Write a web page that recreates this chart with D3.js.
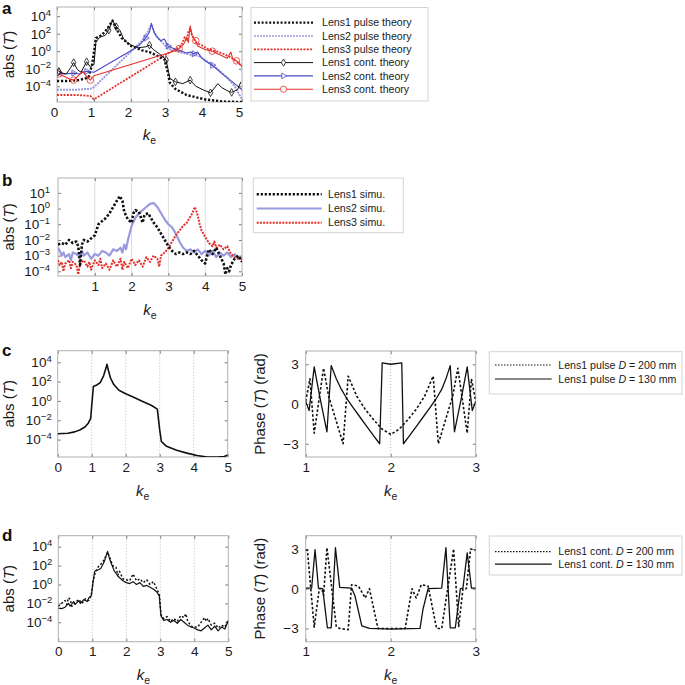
<!DOCTYPE html>
<html><head><meta charset="utf-8">
<script src="https://cdn.jsdelivr.net/npm/d3@7"></script>
<style>body{margin:0;background:#fff} svg{display:block} text{font-family:"Liberation Sans",Arial,Helvetica,sans-serif}</style>
</head><body><svg id="c" width="685" height="685"></svg>
<script>
// ---------- DATA (x = k_e, value = log10 |T| or phase in rad) ----------
const xTicks05 = [0,1,2,3,4,5];
const xTicks15 = [1,2,3,4,5];
const xTicksPhase = [1,2,3];
const yExpA = [4,2,0,-2,-4];
const yExpB = [1,0,-1,-2,-3,-4];
const yPhaseTicks = [3,0,-3];

const legendA = ["Lens1 pulse theory","Lens2 pulse theory","Lens3 pulse theory","Lens1 cont. theory","Lens2 cont. theory","Lens3 cont. theory"];
const legendB = ["Lens1 simu.","Lens2 simu.","Lens3 simu."];
const legendC = [["Lens1 pulse ","D"," = 200 mm"],["Lens1 pulse ","D"," = 130 mm"]];
const legendD = [["Lens1 cont. ","D"," = 200 mm"],["Lens1 cont. ","D"," = 130 mm"]];

const aL1p = [[0,-3.4],[0.3,-3.4],[0.6,-3.3],[0.85,-3.0],[0.95,-1.5],[1.02,0.5],[1.05,1.5],[1.2,1.8],[1.35,2.5],[1.5,3.5],[1.6,2.6],[1.75,1.5],[2.0,0.6],[2.3,0.1],[2.5,-0.1],[2.7,-0.5],[2.9,-0.9],[3.0,-2.5],[3.05,-3.6],[3.2,-4.3],[3.5,-5.0],[4.0,-5.5],[4.5,-5.75],[5.0,-5.8]];
const aL2p = [[0,-4.4],[0.5,-4.4],[0.9,-4.3],[1.0,-4.1],[2.3,1.2],[2.45,2.2],[2.55,3.0],[2.65,2.0],[2.8,1.2],[3.0,0.3],[3.3,-0.1],[3.6,-0.4],[3.8,-0.5],[4.0,-1.0],[4.3,-1.9],[4.6,-3.0],[4.8,-4.0],[5.0,-5.5]];
const aL3p = [[0,-5.0],[0.5,-5.0],[0.9,-5.1],[1.0,-5.5],[3.1,0.0],[3.2,0.2],[3.35,0.6],[3.45,1.6],[3.5,1.2],[3.55,2.2],[3.6,2.6],[3.65,1.8],[3.75,1.0],[3.9,0.7],[4.1,0.2],[4.3,0.0],[4.5,-0.3],[4.7,-0.7],[4.9,-1.3],[5.0,-1.8]];
const aL1c = [[0.05,-2.3],[0.15,-2.5],[0.25,-2.6],[0.35,-2.0],[0.45,-1.3],[0.55,-2.1],[0.65,-2.4],[0.8,-1.2],[0.9,-1.8],[1.0,-1.5],[1.05,1.0],[1.15,1.6],[1.3,1.8],[1.4,2.4],[1.5,3.5],[1.6,2.8],[1.7,2.4],[1.8,1.4],[1.9,1.0],[2.0,0.7],[2.2,0.4],[2.4,0.5],[2.5,0.7],[2.6,0.2],[2.8,-0.4],[2.95,-1.0],[3.05,-3.1],[3.2,-3.5],[3.4,-3.7],[3.6,-3.3],[3.75,-4.0],[3.97,-4.45],[4.15,-4.75],[4.35,-3.7],[4.45,-4.15],[4.6,-4.5],[4.72,-4.7],[4.88,-4.4],[4.97,-3.5]];
const aL2c = [[0.05,-2.5],[0.2,-2.6],[0.45,-2.5],[0.6,-2.6],[0.8,-2.3],[1.0,-2.4],[2.1,0.3],[2.25,0.8],[2.4,1.5],[2.5,2.2],[2.55,3.2],[2.62,2.2],[2.7,1.6],[2.8,1.2],[2.9,1.4],[3.0,0.6],[3.1,0.4],[3.3,0.1],[3.5,-0.2],[3.6,-0.1],[3.7,-0.3],[3.8,-0.1],[3.9,-0.7],[4.0,-1.1],[4.2,-1.6],[4.5,-2.7],[4.8,-3.7],[5.0,-4.4]];
const aL3c = [[0.05,-2.6],[0.2,-2.9],[0.35,-3.2],[0.45,-3.3],[0.55,-2.9],[0.7,-2.3],[0.8,-2.9],[0.9,-3.3],[1.0,-2.8],[3.25,0.1],[3.3,0.3],[3.4,0.7],[3.45,1.0],[3.5,1.6],[3.55,1.0],[3.6,2.9],[3.65,1.8],[3.75,1.2],[3.8,0.6],[4.0,0.2],[4.2,0.0],[4.4,-0.4],[4.6,-0.8],[4.7,-0.1],[4.75,-0.9],[4.85,-1.1],[5.0,-1.7]];
const aL1cMarks = [0.05,0.45,0.8,1.4,1.6,2.5,2.95,3.2,3.6,4.15,4.72];
const aL2cMarks = [0.05,0.45,0.8,2.4,3.0,3.7,4.2];
const aL3cMarks = [0.05,0.45,0.9,3.3,3.75,4.2,4.85];

const bL1 = [[0.0,-2.3],[0.1,-2.2],[0.2,-2.3],[0.3,-2.0],[0.4,-2.2],[0.5,-2.1],[0.55,-2.4],[0.6,-3.6],[0.65,-2.3],[0.7,-2.0],[0.8,-2.1],[0.9,-1.9],[1.0,-1.7],[1.1,-1.0],[1.2,-0.8],[1.3,-0.6],[1.4,-0.3],[1.5,0.1],[1.6,0.5],[1.68,0.8],[1.75,0.5],[1.8,-0.2],[1.9,-0.7],[2.0,-0.9],[2.05,-0.3],[2.1,-0.1],[2.2,-0.2],[2.3,-0.9],[2.35,-0.4],[2.45,-0.3],[2.5,-0.5],[2.6,-0.9],[2.7,-1.2],[2.8,-1.6],[2.9,-2.0],[3.0,-2.4],[3.1,-2.7],[3.2,-2.9],[3.3,-2.8],[3.4,-2.9],[3.5,-2.8],[3.6,-2.9],[3.7,-2.7],[3.8,-3.0],[3.9,-3.3],[4.0,-3.5],[4.05,-3.0],[4.1,-2.6],[4.2,-2.9],[4.3,-2.5],[4.4,-3.0],[4.5,-3.5],[4.55,-4.2],[4.6,-3.8],[4.65,-4.0],[4.7,-3.6],[4.8,-3.2],[4.9,-3.0],[5.0,-3.4]];
const bL2 = [[0.0,-2.5],[0.05,-2.7],[0.1,-3.0],[0.15,-2.8],[0.2,-3.1],[0.3,-2.9],[0.35,-3.3],[0.4,-2.8],[0.5,-2.9],[0.6,-3.1],[0.65,-2.7],[0.7,-3.0],[0.8,-2.8],[0.9,-3.2],[1.0,-2.9],[1.1,-3.0],[1.2,-2.7],[1.3,-2.8],[1.4,-3.0],[1.5,-2.6],[1.6,-2.7],[1.7,-2.5],[1.75,-2.8],[1.8,-2.3],[1.85,-2.6],[1.9,-2.0],[2.0,-1.1],[2.1,-0.6],[2.2,-0.3],[2.3,-0.1],[2.4,0.1],[2.5,0.3],[2.6,0.35],[2.7,0.1],[2.8,-0.3],[2.9,-0.7],[3.0,-1.0],[3.1,-1.2],[3.2,-1.6],[3.3,-2.1],[3.4,-2.5],[3.5,-2.7],[3.6,-2.6],[3.7,-2.8],[3.8,-2.6],[3.9,-2.9],[4.0,-2.7],[4.1,-3.0],[4.2,-2.7],[4.3,-3.1],[4.4,-2.8],[4.5,-3.0],[4.6,-2.8],[4.7,-3.1],[4.8,-2.9],[4.9,-3.2],[5.0,-3.1]];
const bL3 = [[0.0,-3.3],[0.05,-3.6],[0.1,-3.4],[0.15,-4.0],[0.2,-3.5],[0.3,-3.3],[0.35,-3.8],[0.4,-3.4],[0.5,-3.6],[0.55,-4.2],[0.6,-3.5],[0.7,-3.3],[0.8,-3.7],[0.85,-3.4],[0.9,-3.9],[1.0,-3.3],[1.1,-3.6],[1.15,-3.2],[1.2,-3.8],[1.3,-3.5],[1.4,-3.9],[1.5,-3.3],[1.6,-3.7],[1.7,-3.2],[1.75,-3.9],[1.8,-3.4],[1.9,-3.8],[2.0,-3.2],[2.1,-3.6],[2.2,-3.3],[2.3,-3.7],[2.4,-3.1],[2.5,-3.4],[2.6,-3.0],[2.7,-3.2],[2.75,-3.7],[2.8,-3.0],[2.9,-2.8],[3.0,-2.5],[3.1,-2.1],[3.2,-1.7],[3.3,-1.4],[3.4,-1.1],[3.5,-0.9],[3.6,-0.5],[3.65,-0.3],[3.72,0.1],[3.78,-0.3],[3.85,-1.0],[3.9,-1.4],[4.0,-1.8],[4.1,-2.2],[4.2,-2.4],[4.25,-2.1],[4.3,-2.5],[4.4,-2.3],[4.5,-2.6],[4.6,-2.4],[4.7,-2.9],[4.8,-3.1],[4.9,-3.2],[5.0,-3.2]];

const cAbs = [[0,-3.4],[0.3,-3.35],[0.5,-3.2],[0.65,-3.0],[0.8,-2.7],[0.9,-2.3],[0.97,-1.8],[1.0,-0.5],[1.05,1.5],[1.15,1.65],[1.25,1.9],[1.35,2.6],[1.42,3.4],[1.45,3.8],[1.48,3.3],[1.55,2.4],[1.65,1.7],[1.8,1.1],[2.0,0.75],[2.25,0.35],[2.5,-0.05],[2.75,-0.45],[2.93,-0.85],[3.0,-3.0],[3.05,-4.2],[3.2,-4.7],[3.5,-5.1],[3.8,-5.4],[4.1,-5.65],[4.4,-5.8],[4.7,-5.8],[4.9,-5.75],[5.0,-5.6]];
const cPh200 = [[1.0,0.2],[1.05,1.9],[1.1,-2.2],[1.21,2.7],[1.27,0.6],[1.44,-3.0],[1.5,2.1],[1.6,0.6],[1.7,-0.4],[1.8,-1.2],[1.9,-1.9],[2.0,-2.3],[2.1,-1.9],[2.2,-1.2],[2.3,-0.4],[2.4,0.6],[2.5,2.1],[2.56,-3.0],[2.73,0.6],[2.79,2.7],[2.9,-2.2],[2.95,1.9],[3.0,0.2]];
const cPh130 = [[1.0,0.2],[1.04,-0.5],[1.1,2.8],[1.17,0.4],[1.25,-2.1],[1.3,2.9],[1.36,1.9],[1.42,1.1],[1.48,0.45],[1.56,-0.3],[1.64,-1.0],[1.72,-1.7],[1.8,-2.4],[1.87,-3.0],[1.9,3.1],[2.0,3.0],[2.13,3.1],[2.15,-3.0],[2.22,-2.4],[2.3,-1.7],[2.38,-1.0],[2.46,-0.3],[2.54,0.45],[2.6,1.1],[2.65,1.9],[2.7,2.9],[2.75,-2.1],[2.83,0.4],[2.9,2.8],[2.96,-0.5],[3.0,0.2]];

const dAbs200 = [[0,-2.3],[0.1,-2.0],[0.2,-1.7],[0.25,-2.1],[0.3,-1.4],[0.35,-1.6],[0.4,-2.3],[0.5,-1.9],[0.6,-1.6],[0.7,-2.0],[0.8,-1.5],[0.9,-1.7],[0.97,-1.1],[1.03,0.5],[1.1,1.4],[1.2,2.0],[1.3,2.3],[1.4,3.0],[1.45,3.4],[1.5,3.0],[1.55,2.5],[1.6,2.0],[1.7,1.8],[1.75,1.0],[1.8,1.4],[1.9,0.6],[2.0,0.5],[2.1,0.4],[2.2,1.1],[2.3,0.4],[2.4,0.6],[2.5,0.2],[2.6,0.5],[2.7,0.0],[2.8,0.3],[2.9,-0.5],[2.97,-1.0],[3.02,-3.2],[3.1,-3.6],[3.2,-3.4],[3.3,-3.9],[3.4,-3.6],[3.5,-3.9],[3.6,-3.3],[3.7,-3.5],[3.75,-3.1],[3.8,-3.8],[3.9,-4.4],[4.0,-4.5],[4.1,-4.5],[4.2,-4.0],[4.3,-3.5],[4.35,-3.9],[4.4,-3.6],[4.5,-4.3],[4.6,-4.1],[4.7,-4.6],[4.8,-4.3],[4.9,-4.5],[5.0,-3.7]];
const dAbs130 = [[0,-2.5],[0.1,-2.55],[0.2,-2.4],[0.3,-2.0],[0.35,-2.3],[0.45,-1.8],[0.5,-2.1],[0.6,-1.7],[0.65,-2.0],[0.75,-1.6],[0.85,-1.8],[0.9,-1.4],[0.97,-1.2],[1.02,0.2],[1.07,1.4],[1.15,1.5],[1.25,1.7],[1.35,2.4],[1.45,3.5],[1.5,2.8],[1.55,2.3],[1.65,1.4],[1.75,0.9],[1.9,0.4],[2.0,0.2],[2.1,0.1],[2.2,0.3],[2.3,0.0],[2.4,0.2],[2.5,-0.2],[2.6,-0.1],[2.7,-0.3],[2.8,-0.5],[2.9,-0.8],[2.97,-1.2],[3.02,-3.3],[3.1,-3.8],[3.2,-3.7],[3.3,-4.0],[3.4,-3.8],[3.5,-4.1],[3.6,-3.7],[3.7,-4.0],[3.8,-4.3],[3.9,-4.5],[4.0,-4.6],[4.1,-4.8],[4.2,-4.9],[4.3,-4.6],[4.4,-4.3],[4.5,-4.8],[4.6,-4.4],[4.7,-4.9],[4.8,-4.5],[4.9,-4.7],[5.0,-3.8]];
const dPh200 = [[1.0,2.9],[1.02,2.9],[1.1,-2.9],[1.16,0.0],[1.19,0.0],[1.21,-0.5],[1.25,3.1],[1.36,-2.85],[1.4,-3.0],[1.5,-3.1],[1.54,0.3],[1.62,0.2],[1.7,-0.7],[1.75,0.0],[1.85,-3.0],[2.17,-3.0],[2.25,0.0],[2.3,-0.7],[2.36,0.3],[2.44,0.2],[2.54,-3.0],[2.6,-3.0],[2.74,3.0],[2.8,-2.85],[2.85,0.0],[2.89,0.0],[2.94,3.0],[3.0,2.9]];
const dPh130 = [[1.0,0.05],[1.07,0.05],[1.11,2.95],[1.15,0.05],[1.2,0.0],[1.255,-2.95],[1.3,-2.95],[1.35,3.1],[1.4,0.1],[1.54,0.05],[1.58,-0.55],[1.66,-2.8],[1.75,-3.0],[2.0,-3.05],[2.345,-3.0],[2.38,-1.55],[2.44,0.0],[2.6,0.05],[2.65,3.1],[2.7,-2.95],[2.76,-2.95],[2.82,0.0],[2.85,0.05],[2.9,2.7],[2.95,0.05],[3.0,0.05]];

// ---------- DRAWING ----------
const svg = d3.select("#c");
const FONT = 13.5, LFONT = 10.6;
let clipId = 0;

function expLabel(text, e) {
  text.text(null);
  text.append("tspan").text("10");
  text.append("tspan").attr("dy", "-0.55em").attr("font-size", 9.5).text(e < 0 ? "\u2212" + (-e) : e);
}

function makePanel(o) {
  const g = svg.append("g");
  const x = d3.scaleLinear().domain(o.xDom).range([o.x0, o.x1]);
  const y = o.log ? d3.scaleLog().domain([10 ** o.yDom[0], 10 ** o.yDom[1]]).range([o.y1, o.y0])
                  : d3.scaleLinear().domain(o.yDom).range([o.y1, o.y0]);
  g.append("g").selectAll("line").data(o.grid).join("line")
    .attr("x1", d => x(d)).attr("x2", d => x(d)).attr("y1", o.y0).attr("y2", o.y1)
    .attr("stroke", o.gridDot ? "#bbb" : "#dcdcdc").attr("stroke-width", 1)
    .attr("stroke-dasharray", o.gridDot ? "1,2" : null);
  const ax = g.append("g").attr("transform", `translate(0,${o.y1})`)
    .call(d3.axisBottom(x).tickValues(o.xTicks).tickSize(-3).tickPadding(5).tickFormat(d3.format("d")));
  ax.selectAll("text").attr("dx", o.xdx || 0);
  g.append("g").attr("transform", `translate(0,${o.y0})`)
    .call(d3.axisTop(x).tickValues(o.xTicks).tickSize(-3).tickFormat(""));
  const yVals = o.log ? o.yTicks.map(e => 10 ** e) : o.yTicks;
  const ay = g.append("g").attr("transform", `translate(${o.x0},0)`)
    .call(d3.axisLeft(y).tickValues(yVals).tickSize(-3).tickPadding(o.ypad || 6)
      .tickFormat(o.log ? "" : (d => d < 0 ? "\u2212" + (-d) : d)));
  if (o.log) ay.selectAll(".tick text").each(function (d) { expLabel(d3.select(this), Math.round(Math.log10(d))); });
  g.append("g").attr("transform", `translate(${o.x1},0)`)
    .call(d3.axisRight(y).tickValues(yVals).tickSize(-3).tickFormat(""));
  g.selectAll(".domain").remove();
  g.selectAll(".tick line").attr("stroke", "#777");
  g.selectAll(".tick text").attr("fill", "#1a1a1a").attr("font-size", FONT)
    .attr("font-family", '"Liberation Sans",Arial,sans-serif');
  g.append("rect").attr("x", o.x0).attr("y", o.y0).attr("width", o.x1 - o.x0).attr("height", o.y1 - o.y0)
    .attr("fill", "none").attr("stroke", "#b0b0b0").attr("stroke-width", 1);
  const id = "clip" + (clipId++);
  svg.append("clipPath").attr("id", id).append("rect")
    .attr("x", o.x0).attr("y", o.y0 - 1).attr("width", o.x1 - o.x0).attr("height", o.y1 - o.y0 + 1);
  const plot = g.append("g").attr("clip-path", `url(#${id})`);
  const line = d3.line().x(d => x(d[0])).y(d => o.log ? y(10 ** d[1]) : y(d[1]));
  o.series.forEach(s => {
    plot.append("path").datum(s.data).attr("d", line).attr("fill", "none")
      .attr("stroke", s.color).attr("stroke-width", s.w).attr("stroke-dasharray", s.dash || null)
      .attr("stroke-linejoin", "round");
    if (s.marks) {
      const pts = s.marks.map(mx => s.data.reduce((a, b) => Math.abs(b[0] - mx) < Math.abs(a[0] - mx) ? b : a));
      plot.selectAll(null).data(pts).join("path")
        .attr("d", d3.symbol(s.sym, s.symSize))
        .attr("transform", d => `translate(${x(d[0])},${y(10 ** d[1])}) rotate(${s.rot || 0})`)
        .attr("fill", "none").attr("stroke", s.color).attr("stroke-width", 0.8);
    }
  });
  const xl = g.append("text").attr("x", (o.x0 + o.x1) / 2).attr("y", o.xlY).attr("text-anchor", "middle")
    .attr("font-size", 15).attr("fill", "#1a1a1a");
  xl.append("tspan").attr("font-style", "italic").text("k");
  xl.append("tspan").attr("font-size", 10.5).attr("dy", 4).text("e");
  const yl = g.append("text").attr("transform", `translate(${o.ylX},${(o.y0 + o.y1) / 2}) rotate(-90)`)
    .attr("text-anchor", "middle").attr("font-size", 15).attr("fill", "#1a1a1a");
  if (o.phase) {
    yl.append("tspan").text("Phase (");
    yl.append("tspan").attr("font-style", "italic").text("T");
    yl.append("tspan").text(") (rad)");
  } else {
    yl.append("tspan").text("abs (");
    yl.append("tspan").attr("font-style", "italic").text("T");
    yl.append("tspan").text(")");
  }
  return g;
}

function legend(o) {
  const g = svg.append("g");
  g.append("rect").attr("x", o.x0).attr("y", o.y0).attr("width", o.x1 - o.x0).attr("height", o.y1 - o.y0)
    .attr("fill", "#fff").attr("stroke", "#d4d4d4").attr("stroke-width", 1);
  o.items.forEach((it, i) => {
    const yy = o.rowY + i * o.rowH;
    g.append("line").attr("x1", o.lx0).attr("x2", o.lx1).attr("y1", yy).attr("y2", yy)
      .attr("stroke", it.color).attr("stroke-width", it.w).attr("stroke-dasharray", it.dash || null);
    if (it.sym) {
      g.append("path").attr("d", d3.symbol(it.sym, it.symSize))
        .attr("transform", `translate(${(o.lx0 + o.lx1) / 2},${yy}) rotate(${it.rot || 0})`)
        .attr("fill", "#fff").attr("stroke", it.color).attr("stroke-width", 0.8);
    }
    const t = g.append("text").attr("x", o.tx).attr("y", yy).attr("dy", "0.35em")
      .attr("font-size", LFONT).attr("fill", "#1a1a1a");
    if (Array.isArray(it.label)) {
      t.append("tspan").text(it.label[0]);
      t.append("tspan").attr("font-style", "italic").text(it.label[1]);
      t.append("tspan").text(it.label[2]);
    } else t.text(it.label);
  });
}

function letter(t, x, y) {
  svg.append("text").attr("x", x).attr("y", y).attr("font-size", 17).attr("font-weight", "bold")
    .attr("fill", "#111").text(t);
}

const BLK = "#111", LAV = "#9a9ade", RED = "#e3302a", BLU = "#4848c4";
const sA = [
  {data: aL2p, color: LAV, w: 2, dash: "2,1"},
  {data: aL3p, color: RED, w: 1.8, dash: "2,1.3"},
  {data: aL1p, color: BLK, w: 2.4, dash: "2.2,1.8"},
  {data: aL2c, color: BLU, w: 1.1, marks: aL2cMarks, sym: d3.symbolTriangle, symSize: 16, rot: 90},
  {data: aL3c, color: RED, w: 1.1, marks: aL3cMarks, sym: d3.symbolCircle, symSize: 34},
  {data: aL1c, color: BLK, w: 1, marks: aL1cMarks, sym: d3.symbolDiamond, symSize: 17}
];
makePanel({x0: 57, x1: 242, y0: 7, y1: 102, xDom: [0, 5], yDom: [-5.8, 5.05], log: true,
  xTicks: xTicks05, yTicks: yExpA, grid: [1, 2, 3, 4], xdx: -3, xlY: 140, ylX: 14, series: sA});
legend({x0: 251, x1: 428, y0: 7.5, y1: 101, rowY: 22.7, rowH: 13.3, lx0: 254, lx1: 313, tx: 322,
  items: [
    {label: legendA[0], color: BLK, w: 2.2, dash: "2,1.8"},
    {label: legendA[1], color: LAV, w: 1.6, dash: "2,1"},
    {label: legendA[2], color: RED, w: 1.8, dash: "2,1.3"},
    {label: legendA[3], color: BLK, w: 1, sym: d3.symbolDiamond, symSize: 15},
    {label: legendA[4], color: BLU, w: 1.1, sym: d3.symbolTriangle, symSize: 14, rot: 90},
    {label: legendA[5], color: RED, w: 1.1, sym: d3.symbolCircle, symSize: 30}
  ]});
letter("a", 2, 14);

makePanel({x0: 58, x1: 242, y0: 178, y1: 276, xDom: [0, 5], yDom: [-4.3, 1.95], log: true, ypad: 8,
  xTicks: xTicks15, yTicks: yExpB, grid: [1, 2, 3, 4], xlY: 315, ylX: 14, series: [
    {data: bL2, color: LAV, w: 2.2},
    {data: bL3, color: RED, w: 2, dash: "2,1.2"},
    {data: bL1, color: BLK, w: 2.6, dash: "2.4,1.8"}
  ]});
legend({x0: 253.3, x1: 403.3, y0: 178, y1: 232.7, rowY: 194.3, rowH: 14.2, lx0: 256.7, lx1: 321.7, tx: 328,
  items: [
    {label: legendB[0], color: BLK, w: 2.4, dash: "2.2,1.8"},
    {label: legendB[1], color: LAV, w: 2},
    {label: legendB[2], color: RED, w: 2, dash: "2,1.2"}
  ]});
letter("b", 2, 186);

makePanel({x0: 57.7, x1: 227.7, y0: 350.7, y1: 457, xDom: [0, 5], yDom: [-5.8, 5.2], log: true,
  xTicks: xTicks05, yTicks: yExpA, grid: [1, 2, 3, 4], gridDot: true, xlY: 496, ylX: 14, series: [
    {data: cAbs, color: BLK, w: 1.6}
  ]});
makePanel({x0: 305.7, x1: 475.7, y0: 351, y1: 457, xDom: [1, 3], yDom: [-4, 4], log: false, phase: true,
  xTicks: xTicksPhase, yTicks: yPhaseTicks, grid: [2], gridDot: true, xlY: 496, ylX: 265, ypad: 7, series: [
    {data: cPh200, color: BLK, w: 1.6, dash: "2.5,2"},
    {data: cPh130, color: BLK, w: 1.3}
  ]});
legend({x0: 489.3, x1: 682, y0: 351.7, y1: 394, rowY: 365, rowH: 14, lx0: 495, lx1: 551.7, tx: 558.3,
  items: [
    {label: legendC[0], color: BLK, w: 1.2, dash: "1.5,1.5"},
    {label: legendC[1], color: BLK, w: 1.2}
  ]});
letter("c", 2, 356);

makePanel({x0: 58.3, x1: 228.3, y0: 535.7, y1: 641.7, xDom: [0, 5], yDom: [-6.05, 5.16], log: true,
  xTicks: xTicks05, yTicks: yExpA, grid: [1, 2, 3, 4], gridDot: true, xlY: 680, ylX: 14, series: [
    {data: dAbs200, color: BLK, w: 1.5, dash: "2,2"},
    {data: dAbs130, color: BLK, w: 1.2}
  ]});
makePanel({x0: 305.7, x1: 475.7, y0: 535.7, y1: 641.7, xDom: [1, 3], yDom: [-4, 4], log: false, phase: true,
  xTicks: xTicksPhase, yTicks: yPhaseTicks, grid: [2], gridDot: true, xlY: 680, ylX: 265, ypad: 7, series: [
    {data: dPh200, color: BLK, w: 1.6, dash: "2.5,2"},
    {data: dPh130, color: BLK, w: 1.3}
  ]});
legend({x0: 489.3, x1: 682, y0: 536, y1: 575, rowY: 551.7, rowH: 12.5, lx0: 495, lx1: 551.7, tx: 558.3,
  items: [
    {label: legendD[0], color: BLK, w: 1.2, dash: "1.5,1.5"},
    {label: legendD[1], color: BLK, w: 1.2}
  ]});
letter("d", 2, 541);
</script></body></html>
